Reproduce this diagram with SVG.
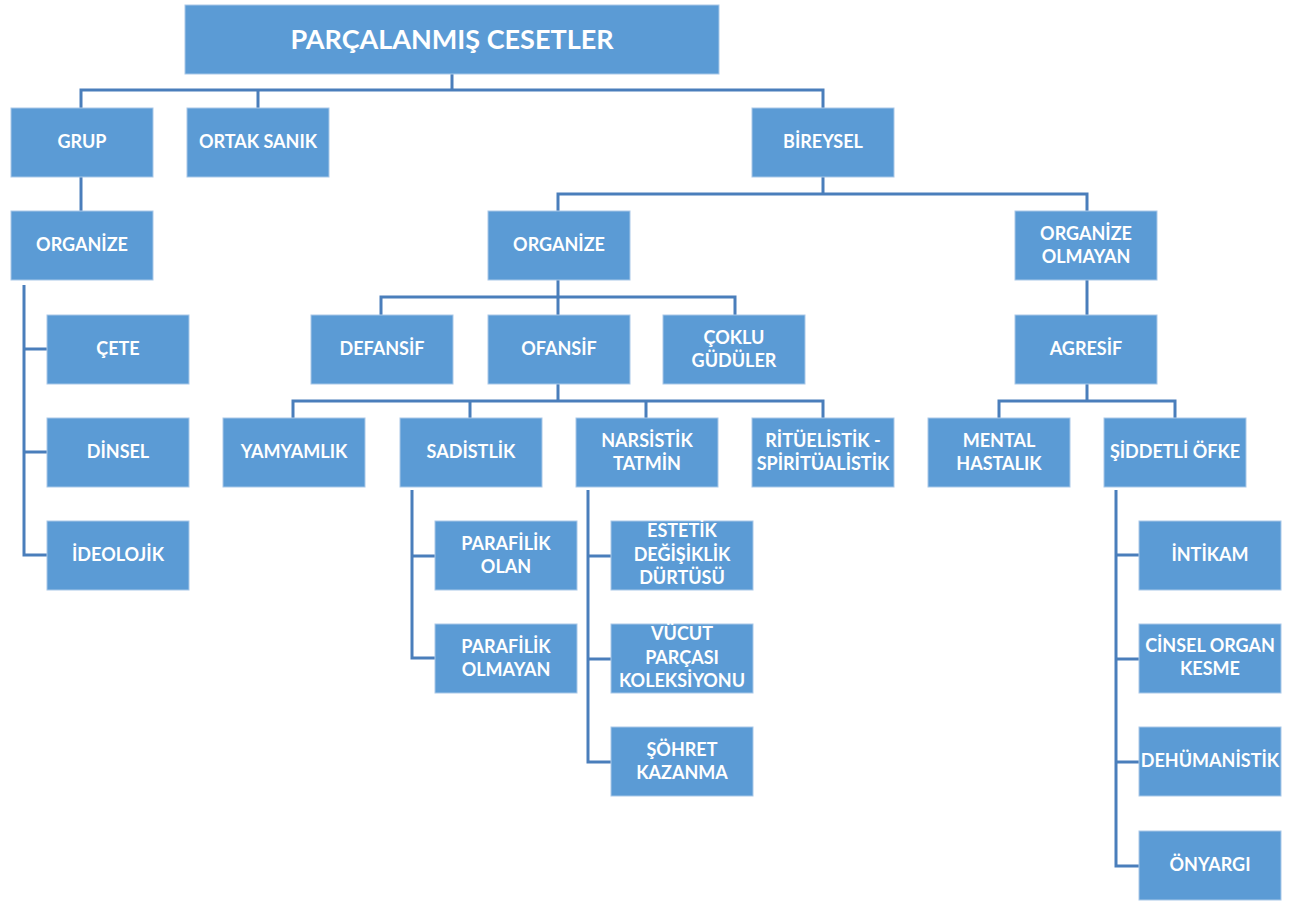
<svg xmlns="http://www.w3.org/2000/svg" width="1300" height="905" viewBox="0 0 1300 905">
<style>
.b{fill:#5B9BD5;stroke:#A9C8E8;stroke-width:1}
.t{font-family:Lato,"Open Sans","Liberation Sans",sans-serif;font-weight:bold;font-size:18px;fill:#FFFFFF;text-anchor:middle}
.r{font-size:27px}
.c{fill:none;stroke:#4A7EBB;stroke-width:3}
</style>
<rect width="1300" height="905" fill="#FFFFFF"/>
<g id="connectors" class="c">
<path d="M452 74V90M81 108V90H823V108M258 90V108"/>
<path d="M81 177V211"/>
<path d="M24 285V555H47M24 349H47M24 452H47"/>
<path d="M823 177V194M558 211V194H1087V211"/>
<path d="M558 280V297M381 315V297H735V315M558 297V315"/>
<path d="M1087 280V315"/>
<path d="M558 384V401M293 418V401H823V418M470 401V418M646 401V418"/>
<path d="M1087 384V401M999 418V401H1175V418"/>
<path d="M412 490V658H435M412 556H435"/>
<path d="M588 490V762H611M588 556H611M588 659H611"/>
<path d="M1116 490V866H1139M1116 555H1139M1116 659H1139M1116 762H1139"/>
</g>
<g id="root"><rect class="b" x="185" y="5" width="534" height="69"/><text class="t r" x="452" y="49">PARÇALANMIŞ CESETLER</text></g>
<g id="grup"><rect class="b" x="11" y="108" width="142" height="69"/><text class="t" x="82" y="148">GRUP</text></g>
<g id="ortak"><rect class="b" x="187" y="108" width="142" height="69"/><text class="t" x="258" y="148">ORTAK SANIK</text></g>
<g id="bireysel"><rect class="b" x="752" y="108" width="142" height="69"/><text class="t" x="823" y="148">BİREYSEL</text></g>
<g id="organize-grup"><rect class="b" x="11" y="211" width="142" height="69"/><text class="t" x="82" y="251">ORGANİZE</text></g>
<g id="cete"><rect class="b" x="47" y="315" width="142" height="69"/><text class="t" x="118" y="355">ÇETE</text></g>
<g id="dinsel"><rect class="b" x="47" y="418" width="142" height="69"/><text class="t" x="118" y="458">DİNSEL</text></g>
<g id="ideolojik"><rect class="b" x="47" y="521" width="142" height="69"/><text class="t" x="118" y="561">İDEOLOJİK</text></g>
<g id="organize"><rect class="b" x="488" y="211" width="142" height="69"/><text class="t" x="559" y="251">ORGANİZE</text></g>
<g id="organize-olmayan"><rect class="b" x="1015" y="211" width="142" height="69"/><text class="t" x="1086" y="240">ORGANİZE</text><text class="t" x="1086" y="263">OLMAYAN</text></g>
<g id="defansif"><rect class="b" x="311" y="315" width="142" height="69"/><text class="t" x="382" y="355">DEFANSİF</text></g>
<g id="ofansif"><rect class="b" x="488" y="315" width="142" height="69"/><text class="t" x="559" y="355">OFANSİF</text></g>
<g id="coklu"><rect class="b" x="663" y="315" width="142" height="69"/><text class="t" x="734" y="344">ÇOKLU</text><text class="t" x="734" y="367">GÜDÜLER</text></g>
<g id="agresif"><rect class="b" x="1015" y="315" width="142" height="69"/><text class="t" x="1086" y="355">AGRESİF</text></g>
<g id="yamyamlik"><rect class="b" x="223" y="418" width="142" height="69"/><text class="t" x="294" y="458">YAMYAMLIK</text></g>
<g id="sadistlik"><rect class="b" x="400" y="418" width="142" height="69"/><text class="t" x="471" y="458">SADİSTLİK</text></g>
<g id="narsistik"><rect class="b" x="576" y="418" width="142" height="69"/><text class="t" x="647" y="447">NARSİSTİK</text><text class="t" x="647" y="470">TATMİN</text></g>
<g id="rituelistik"><rect class="b" x="752" y="418" width="142" height="69"/><text class="t" x="823" y="447">RİTÜELİSTİK -</text><text class="t" x="823" y="470">SPİRİTÜALİSTİK</text></g>
<g id="mental"><rect class="b" x="928" y="418" width="142" height="69"/><text class="t" x="999" y="447">MENTAL</text><text class="t" x="999" y="470">HASTALIK</text></g>
<g id="siddetli"><rect class="b" x="1104" y="418" width="142" height="69"/><text class="t" x="1175" y="458">ŞİDDETLİ ÖFKE</text></g>
<g id="parafilik-olan"><rect class="b" x="435" y="521" width="142" height="69"/><text class="t" x="506" y="550">PARAFİLİK</text><text class="t" x="506" y="573">OLAN</text></g>
<g id="parafilik-olmayan"><rect class="b" x="435" y="624" width="142" height="69"/><text class="t" x="506" y="653">PARAFİLİK</text><text class="t" x="506" y="676">OLMAYAN</text></g>
<g id="estetik"><rect class="b" x="611" y="521" width="142" height="69"/><text class="t" x="682" y="537">ESTETİK</text><text class="t" x="682" y="561">DEĞİŞİKLİK</text><text class="t" x="682" y="584">DÜRTÜSÜ</text></g>
<g id="vucut"><rect class="b" x="611" y="624" width="142" height="69"/><text class="t" x="682" y="640">VÜCUT</text><text class="t" x="682" y="664">PARÇASI</text><text class="t" x="682" y="687">KOLEKSİYONU</text></g>
<g id="sohret"><rect class="b" x="611" y="727" width="142" height="69"/><text class="t" x="682" y="756">ŞÖHRET</text><text class="t" x="682" y="779">KAZANMA</text></g>
<g id="intikam"><rect class="b" x="1139" y="521" width="142" height="69"/><text class="t" x="1210" y="561">İNTİKAM</text></g>
<g id="cinsel"><rect class="b" x="1139" y="624" width="142" height="69"/><text class="t" x="1210" y="652">CİNSEL ORGAN</text><text class="t" x="1210" y="675">KESME</text></g>
<g id="dehumanistik"><rect class="b" x="1139" y="727" width="142" height="69"/><text class="t" x="1210" y="767">DEHÜMANİSTİK</text></g>
<g id="onyargi"><rect class="b" x="1139" y="831" width="142" height="69"/><text class="t" x="1210" y="871">ÖNYARGI</text></g>
</svg>
